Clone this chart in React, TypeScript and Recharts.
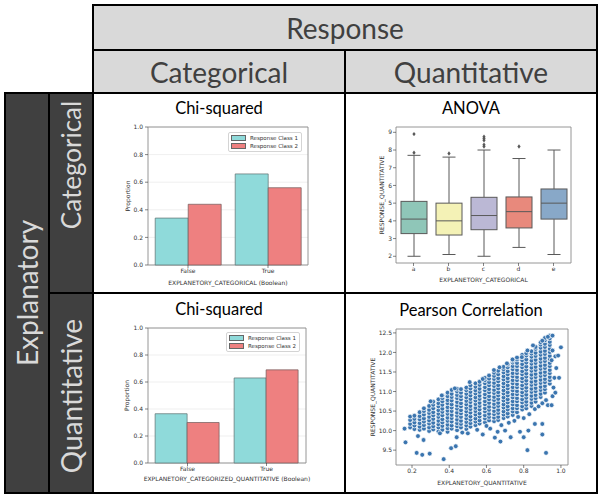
import React from 'react'
import { BarChart, Bar, XAxis, YAxis, CartesianGrid, Legend, ComposedChart, ScatterChart, Scatter, ReferenceArea } from 'recharts'

// Chi-squared panels
const booleanGroups = ['False', 'True']
const categoricalClass1 = [0.34, 0.66]
const categoricalClass2 = [0.44, 0.56]
const quantitativeClass1 = [0.365, 0.63]
const quantitativeClass2 = [0.3, 0.69]
const proportionTicks = [0, 0.2, 0.4, 0.6, 0.8, 1.0]
const classNames = ['Response Class 1', 'Response Class 2']
const classColors = ['#8fdada', '#ee8080']

// ANOVA box plot
const boxGroups = ['a', 'b', 'c', 'd', 'e']
const boxLow = [2.0, 2.1, 2.0, 2.5, 2.1]
const boxQ1 = [3.28, 3.2, 3.5, 3.6, 4.1]
const boxMedian = [4.1, 4.0, 4.3, 4.52, 5.0]
const boxQ3 = [5.1, 5.0, 5.33, 5.35, 5.8]
const boxHigh = [7.7, 7.6, 8.0, 7.52, 8.0]
const boxOutliers = [[8.9, 7.85], [7.8], [8.2, 8.3, 8.55, 8.65, 8.75], [8.2], []]
const boxColors = ['#8fc6b8', '#f4f2b6', '#bbb8d5', '#e8897c', '#88a8c8']
const anovaTicks = [2, 3, 4, 5, 6, 7, 8, 9]

// Pearson scatter: dense band, column by column
const cloudColumnX = [
  0.19, 0.213, 0.241, 0.264, 0.292, 0.314, 0.342, 0.363, 0.391, 0.413, 0.442, 0.463, 0.492, 0.514, 0.541, 0.563,
  0.592, 0.614, 0.641, 0.663, 0.692, 0.714, 0.741, 0.764, 0.792, 0.814, 0.842, 0.864, 0.891, 0.914, 0.94,
]
const cloudColumnY = [
  [10.08, 10.17, 10.27, 10.36],
  [10.04, 10.13, 10.21, 10.3, 10.38],
  [10.02, 10.1, 10.19, 10.29, 10.37, 10.47],
  [10.05, 10.14, 10.23, 10.31, 10.41, 10.5, 10.57],
  [9.99, 10.08, 10.18, 10.26, 10.35, 10.45, 10.53, 10.63],
  [10.03, 10.11, 10.2, 10.3, 10.39, 10.47, 10.57, 10.66, 10.74],
  [9.98, 10.08, 10.16, 10.25, 10.35, 10.43, 10.52, 10.62, 10.7, 10.8],
  [10.02, 10.12, 10.21, 10.29, 10.39, 10.48, 10.56, 10.66, 10.75, 10.83, 10.9],
  [9.97, 10.06, 10.15, 10.25, 10.33, 10.43, 10.51, 10.6, 10.7, 10.78, 10.88, 10.97],
  [10.05, 10.13, 10.23, 10.32, 10.4, 10.5, 10.59, 10.67, 10.77, 10.86, 10.94, 11.04],
  [10.01, 10.11, 10.19, 10.28, 10.38, 10.46, 10.56, 10.64, 10.73, 10.83, 10.91, 11.0, 11.07],
  [10.08, 10.17, 10.25, 10.35, 10.44, 10.52, 10.62, 10.7, 10.8, 10.88, 10.97, 11.06],
  [10.04, 10.13, 10.22, 10.31, 10.4, 10.49, 10.58, 10.67, 10.76, 10.85, 10.94, 11.03, 11.1],
  [10.1, 10.19, 10.28, 10.36, 10.46, 10.55, 10.63, 10.73, 10.81, 10.9, 10.99, 11.08, 11.16],
  [10.14, 10.23, 10.31, 10.41, 10.5, 10.58, 10.68, 10.77, 10.85, 10.95, 11.03, 11.12, 11.21],
  [10.18, 10.26, 10.36, 10.44, 10.54, 10.63, 10.71, 10.81, 10.89, 10.99, 11.07, 11.17, 11.25],
  [10.21, 10.31, 10.39, 10.49, 10.57, 10.67, 10.75, 10.85, 10.93, 11.03, 11.11, 11.21, 11.29, 11.35],
  [10.26, 10.35, 10.43, 10.53, 10.61, 10.71, 10.8, 10.88, 10.98, 11.06, 11.16, 11.24, 11.33, 11.41],
  [10.24, 10.33, 10.42, 10.5, 10.6, 10.68, 10.78, 10.86, 10.96, 11.04, 11.14, 11.22, 11.32, 11.4, 11.48],
  [10.27, 10.35, 10.45, 10.53, 10.63, 10.71, 10.81, 10.9, 10.98, 11.08, 11.16, 11.26, 11.34, 11.44, 11.53],
  [10.32, 10.41, 10.49, 10.59, 10.67, 10.77, 10.85, 10.95, 11.03, 11.13, 11.21, 11.31, 11.39, 11.49, 11.57, 11.63],
  [10.36, 10.44, 10.54, 10.62, 10.72, 10.8, 10.9, 10.98, 11.08, 11.16, 11.26, 11.34, 11.44, 11.52, 11.62, 11.69],
  [10.4, 10.49, 10.57, 10.67, 10.75, 10.85, 10.93, 11.03, 11.11, 11.21, 11.29, 11.39, 11.47, 11.57, 11.65, 11.74, 11.79],
  [10.47, 10.57, 10.65, 10.75, 10.83, 10.93, 11.01, 11.11, 11.19, 11.29, 11.37, 11.47, 11.55, 11.65, 11.73, 11.82, 11.87],
  [10.54, 10.62, 10.72, 10.8, 10.9, 10.98, 11.08, 11.16, 11.26, 11.34, 11.44, 11.52, 11.62, 11.7, 11.8, 11.88, 11.94],
  [10.57, 10.66, 10.74, 10.84, 10.92, 11.02, 11.1, 11.2, 11.28, 11.38, 11.46, 11.56, 11.64, 11.74, 11.82, 11.92, 11.98],
  [10.63, 10.71, 10.81, 10.89, 10.99, 11.07, 11.17, 11.25, 11.35, 11.43, 11.53, 11.61, 11.71, 11.79, 11.89, 11.97, 12.03],
  [10.74, 10.83, 10.91, 11.01, 11.09, 11.19, 11.27, 11.37, 11.45, 11.55, 11.63, 11.73, 11.81, 11.91, 11.99, 12.09, 12.14],
  [10.86, 10.94, 11.04, 11.12, 11.22, 11.3, 11.4, 11.48, 11.58, 11.66, 11.76, 11.84, 11.94, 12.02, 12.12, 12.2, 12.26],
  [10.97, 11.06, 11.14, 11.24, 11.32, 11.42, 11.5, 11.6, 11.68, 11.78, 11.86, 11.96, 12.04, 12.14, 12.22, 12.31, 12.37],
  [11.2, 11.29, 11.37, 11.47, 11.55, 11.65, 11.73, 11.83, 11.91, 12.01, 12.09, 12.19, 12.27, 12.36, 12.43],
]
// scattered points around the band
const strayPoints: [number, number][] = [
  [0.16, 10.05], [0.165, 9.7], [0.225, 9.43], [0.232, 9.86], [0.255, 9.38], [0.262, 9.76], [0.295, 9.41],
  [0.37, 9.27], [0.41, 9.55], [0.435, 9.6], [0.44, 9.83], [0.5, 9.93], [0.58, 9.9], [0.62, 10.05],
  [0.645, 9.82], [0.66, 9.97], [0.675, 9.72], [0.7, 10.0], [0.73, 9.83], [0.78, 9.97], [0.8, 9.83],
  [0.82, 9.5], [0.825, 10.0], [0.86, 10.17], [0.9, 10.17], [0.9, 9.9], [0.92, 9.43], [0.35, 9.93],
  [0.47, 9.95], [0.55, 10.02], [0.6, 10.12], [0.68, 10.14], [0.72, 10.2], [0.75, 10.25], [0.77, 10.35],
  [0.8, 10.32], [0.83, 10.42], [0.86, 10.55], [0.88, 10.62], [0.9, 10.7], [0.92, 10.78], [0.93, 10.65],
  [0.95, 10.65], [0.955, 10.88], [0.97, 10.97], [0.96, 11.1], [0.965, 11.35], [0.975, 11.6], [0.99, 11.35],
  [0.97, 11.9], [0.985, 11.92], [1.0, 12.13], [0.955, 12.05], [0.95, 11.8], [0.3, 10.75], [0.36, 10.9],
  [0.43, 11.08], [0.51, 11.24], [0.58, 11.32], [0.64, 11.55], [0.71, 11.72], [0.79, 11.88], [0.82, 12.05],
  [0.85, 12.18], [0.9, 12.3], [0.93, 12.4], [0.955, 12.43], [0.67, 11.62], [0.74, 11.82],
]
const pearsonXTicks = [0.2, 0.4, 0.6, 0.8, 1.0]
const pearsonYTicks = [9.5, 10.0, 10.5, 11.0, 11.5, 12.0, 12.5]

const PANEL_W = 252
const PANEL_H = 200
const LINE = '#000'
const FRAME = '#8a8a8a'
const INK = '#333'
const MPL_FONT = '"DejaVu Sans", sans-serif'
const HEAD_FONT = 'Lato, "Open Sans", sans-serif'

const tickStyle = { fontSize: 6, fill: INK, fontFamily: MPL_FONT }
const labelStyle = { fontSize: 6, fill: INK, fontFamily: MPL_FONT, textAnchor: 'middle' as const }

const Cell = ({ x0, x1, y0, y1, bg, children }: { x0: number; x1: number; y0: number; y1: number; bg: string; children?: React.ReactNode }) => (
  <div
    style={{
      position: 'absolute',
      left: x0 - 1,
      top: y0 - 1,
      width: x1 - x0 + 2,
      height: y1 - y0 + 2,
      boxSizing: 'border-box',
      border: `2px solid ${LINE}`,
      background: bg,
      display: 'flex',
      alignItems: 'center',
      justifyContent: 'center',
      overflow: 'hidden',
    }}
  >
    {children}
  </div>
)

const HeadText = ({ text, color, rotate, shift = 0, size = 28 }: { text: string; color: string; rotate?: boolean; shift?: number; size?: number }) => (
  <span
    style={{
      fontFamily: HEAD_FONT,
      fontSize: size,
      color,
      whiteSpace: 'nowrap',
      transform: rotate ? `translateY(${shift}px) rotate(-90deg)` : undefined,
    }}
  >
    {text}
  </span>
)

const PanelTitle = ({ text, top }: { text: string; top: number }) => (
  <div
    style={{
      position: 'absolute',
      left: 0,
      top,
      width: PANEL_W,
      textAlign: 'center',
      fontFamily: HEAD_FONT,
      fontSize: 16.5,
      lineHeight: '20px',
      color: '#000',
      zIndex: 2,
    }}
  >
    {text}
  </div>
)

const ClassLegend = () => (
  <div
    style={{
      border: '0.8px solid #d4d4d4',
      borderRadius: 2,
      background: '#fff',
      padding: '1px 3px 1px 2px',
      fontFamily: MPL_FONT,
      fontSize: 5.5,
      color: INK,
      lineHeight: '8px',
    }}
  >
    {classNames.map((name, i) => (
      <div key={name} style={{ display: 'flex', alignItems: 'center', whiteSpace: 'nowrap' }}>
        <span
          style={{
            display: 'inline-block',
            width: 13,
            height: 4,
            background: classColors[i],
            border: '0.6px solid #666',
            marginRight: 4,
          }}
        />
        {name}
      </div>
    ))}
  </div>
)

type Plot = { top: number; right: number; left: number; bottom: number; yLabelX: number; xLabelOffset: number; legendLeft: number; legendTop: number }

const ChiSquared = ({ class1, class2, xLabel, plot }: { class1: number[]; class2: number[]; xLabel: string; plot: Plot }) => {
  const data = booleanGroups.map((group, i) => ({ group, class1: class1[i], class2: class2[i] }))
  return (
    <BarChart width={PANEL_W} height={PANEL_H} data={data} margin={{ top: plot.top, right: plot.right, bottom: 0, left: 0 }} barGap={0} barCategoryGap="9%">
      <CartesianGrid vertical={false} stroke="#ebebeb" strokeWidth={0.8} />
      <XAxis
        dataKey="group"
        height={plot.bottom}
        interval={0}
        tick={tickStyle}
        tickSize={3}
        tickMargin={1}
        tickLine={{ stroke: INK, strokeWidth: 0.6 }}
        axisLine={false}
        label={{ value: xLabel, position: 'insideBottom', offset: plot.xLabelOffset, style: labelStyle }}
      />
      <YAxis
        domain={[0, 1]}
        ticks={proportionTicks}
        tickFormatter={(v: number) => v.toFixed(1)}
        width={plot.left}
        tick={tickStyle}
        tickSize={3}
        tickMargin={2}
        tickLine={{ stroke: INK, strokeWidth: 0.6 }}
        axisLine={false}
        label={{ value: 'Proportion', angle: -90, position: 'insideLeft', offset: plot.yLabelX, style: labelStyle }}
      />
      <Legend
        layout="horizontal"
        verticalAlign="middle"
        align="center"
        content={() => <ClassLegend />}
        wrapperStyle={{ top: plot.legendTop, left: plot.legendLeft, width: 'auto', height: 'auto' }}
      />
      <Bar dataKey="class1" fill={classColors[0]} stroke="#5d6f6f" strokeWidth={0.7} isAnimationActive={false} />
      <Bar dataKey="class2" fill={classColors[1]} stroke="#6e5a5a" strokeWidth={0.7} isAnimationActive={false} />
      {/* axes frame */}
      <ReferenceArea y1={0} y2={1} fill="none" stroke={FRAME} strokeWidth={0.9} />
    </BarChart>
  )
}

const BOX_EDGE = '#595959'

const BoxShape = (props: any) => {
  const { x, y, width, height } = props
  const i = typeof props.index === 'number' ? props.index : boxGroups.indexOf(props.payload?.group)
  const low = boxLow[i]
  const high = boxHigh[i]
  const top = Math.min(y, y + height)
  const span = Math.abs(height)
  const ppu = span / (high - low)
  const toY = (v: number) => top + (high - v) * ppu
  const cx = x + width / 2
  const capHalf = width / 4
  return (
    <g>
      <line x1={cx} x2={cx} y1={toY(high)} y2={toY(boxQ3[i])} stroke={BOX_EDGE} strokeWidth={1} />
      <line x1={cx} x2={cx} y1={toY(boxQ1[i])} y2={toY(low)} stroke={BOX_EDGE} strokeWidth={1} />
      <line x1={cx - capHalf} x2={cx + capHalf} y1={toY(high)} y2={toY(high)} stroke={BOX_EDGE} strokeWidth={1} />
      <line x1={cx - capHalf} x2={cx + capHalf} y1={toY(low)} y2={toY(low)} stroke={BOX_EDGE} strokeWidth={1} />
      <rect
        x={x}
        y={toY(boxQ3[i])}
        width={width}
        height={toY(boxQ1[i]) - toY(boxQ3[i])}
        fill={boxColors[i]}
        stroke={BOX_EDGE}
        strokeWidth={1}
      />
      <line x1={x} x2={x + width} y1={toY(boxMedian[i])} y2={toY(boxMedian[i])} stroke={BOX_EDGE} strokeWidth={1} />
      {boxOutliers[i].map((v, k) => {
        const oy = toY(v)
        return <path key={k} d={`M${cx},${oy - 2.2}L${cx + 1.6},${oy}L${cx},${oy + 2.2}L${cx - 1.6},${oy}Z`} fill={BOX_EDGE} />
      })}
    </g>
  )
}

const Anova = () => {
  const data = boxGroups.map((group, i) => ({ group, range: [boxLow[i], boxHigh[i]] }))
  return (
    <ComposedChart width={PANEL_W} height={PANEL_H} data={data} margin={{ top: 34, right: 26, bottom: 0, left: 0 }}>
      <XAxis
        dataKey="group"
        height={30}
        interval={0}
        tick={tickStyle}
        tickSize={3}
        tickMargin={1}
        tickLine={{ stroke: INK, strokeWidth: 0.6 }}
        axisLine={false}
        label={{ value: 'EXPLANETORY_CATEGORICAL', position: 'insideBottom', offset: 11, style: labelStyle }}
      />
      <YAxis
        type="number"
        domain={[1.62, 9.3]}
        allowDataOverflow
        ticks={anovaTicks}
        width={51}
        tick={tickStyle}
        tickSize={3}
        tickMargin={1}
        tickLine={{ stroke: INK, strokeWidth: 0.6 }}
        axisLine={false}
        label={{ value: 'RESPONSE_QUANTITATIVE', angle: -90, position: 'insideLeft', offset: 37, style: labelStyle }}
      />
      <Bar dataKey="range" barSize={26} shape={BoxShape} isAnimationActive={false} />
      <ReferenceArea y1={1.62} y2={9.3} fill="none" stroke={FRAME} strokeWidth={0.9} />
    </ComposedChart>
  )
}

const Pearson = () => {
  const points = [
    ...cloudColumnX.flatMap((x, c) => cloudColumnY[c].map((y) => ({ x, y }))),
    ...strayPoints.map(([x, y]) => ({ x, y })),
  ]
  return (
    <ScatterChart width={PANEL_W} height={PANEL_H} margin={{ top: 36, right: 29, bottom: 0, left: 0 }}>
      <XAxis
        type="number"
        dataKey="x"
        domain={[0.114, 1.038]}
        allowDataOverflow
        ticks={pearsonXTicks}
        tickFormatter={(v: number) => v.toFixed(1)}
        height={28}
        tick={tickStyle}
        tickSize={3}
        tickMargin={1}
        tickLine={{ stroke: INK, strokeWidth: 0.6 }}
        axisLine={false}
        label={{ value: 'EXPLANETORY_QUANTITATIVE', position: 'insideBottom', offset: 8, style: labelStyle }}
      />
      <YAxis
        type="number"
        dataKey="y"
        domain={[9.12, 12.6]}
        allowDataOverflow
        ticks={pearsonYTicks}
        tickFormatter={(v: number) => v.toFixed(1)}
        width={51}
        tick={tickStyle}
        tickSize={3}
        tickMargin={1}
        tickLine={{ stroke: INK, strokeWidth: 0.6 }}
        axisLine={false}
        label={{ value: 'RESPONSE_QUANTITATIVE', angle: -90, position: 'insideLeft', offset: 28, style: labelStyle }}
      />
      <Scatter
        data={points}
        isAnimationActive={false}
        shape={(p: any) => <circle cx={p.cx} cy={p.cy} r={2.4} fill="#3b75af" stroke="#fff" strokeWidth={0.7} />}
      />
      <ReferenceArea x1={0.114} x2={1.038} y1={9.12} y2={12.6} fill="none" stroke={FRAME} strokeWidth={0.9} />
    </ScatterChart>
  )
}

const Panel = ({ left, top, children }: { left: number; top: number; children: React.ReactNode }) => (
  <div style={{ position: 'absolute', left, top, width: PANEL_W, height: PANEL_H }}>{children}</div>
)

export default function App() {
  return (
    <div style={{ position: 'absolute', left: 0, top: 0, width: 599, height: 496, background: '#fff', overflow: 'hidden' }}>
      {/* header rows */}
      <Cell x0={93} x1={597} y0={5} y1={50} bg="#d9d9d9">
        <HeadText text="Response" color="#404040" />
      </Cell>
      <Cell x0={93} x1={345} y0={50} y1={93} bg="#d9d9d9">
        <HeadText text="Categorical" color="#404040" />
      </Cell>
      <Cell x0={345} x1={597} y0={50} y1={93} bg="#d9d9d9">
        <HeadText text="Quantitative" color="#404040" />
      </Cell>
      {/* explanatory side */}
      <Cell x0={5} x1={49} y0={93} y1={493} bg="#404040">
        <HeadText text="Explanatory" color="#d9d9d9" rotate />
      </Cell>
      <Cell x0={49} x1={93} y0={93} y1={293} bg="#404040">
        <HeadText text="Categorical" color="#d9d9d9" rotate shift={-28} size={26} />
      </Cell>
      <Cell x0={49} x1={93} y0={293} y1={493} bg="#404040">
        <HeadText text="Quantitative" color="#d9d9d9" rotate shift={3} />
      </Cell>
      {/* chart cells */}
      <Cell x0={93} x1={345} y0={93} y1={293} bg="#fff" />
      <Cell x0={345} x1={597} y0={93} y1={293} bg="#fff" />
      <Cell x0={93} x1={345} y0={293} y1={493} bg="#fff" />
      <Cell x0={345} x1={597} y0={293} y1={493} bg="#fff" />

      <Panel left={93} top={93}>
        <PanelTitle text="Chi-squared" top={5} />
        <ChiSquared
          class1={categoricalClass1}
          class2={categoricalClass2}
          xLabel="EXPLANETORY_CATEGORICAL (Boolean)"
          plot={{ top: 34, right: 37, left: 55, bottom: 28, yLabelX: 35, xLabelOffset: 8, legendLeft: 135, legendTop: 39 }}
        />
      </Panel>
      <Panel left={345} top={93}>
        <PanelTitle text="ANOVA" top={5} />
        <Anova />
      </Panel>
      <Panel left={93} top={293}>
        <PanelTitle text="Chi-squared" top={6} />
        <ChiSquared
          class1={quantitativeClass1}
          class2={quantitativeClass2}
          xLabel="EXPLANETORY_CATEGORIZED_QUANTITATIVE (Boolean)"
          plot={{ top: 35, right: 39, left: 55, bottom: 30, yLabelX: 34, xLabelOffset: 12, legendLeft: 133, legendTop: 39 }}
        />
      </Panel>
      <Panel left={345} top={293}>
        <PanelTitle text="Pearson Correlation" top={7} />
        <Pearson />
      </Panel>
    </div>
  )
}
